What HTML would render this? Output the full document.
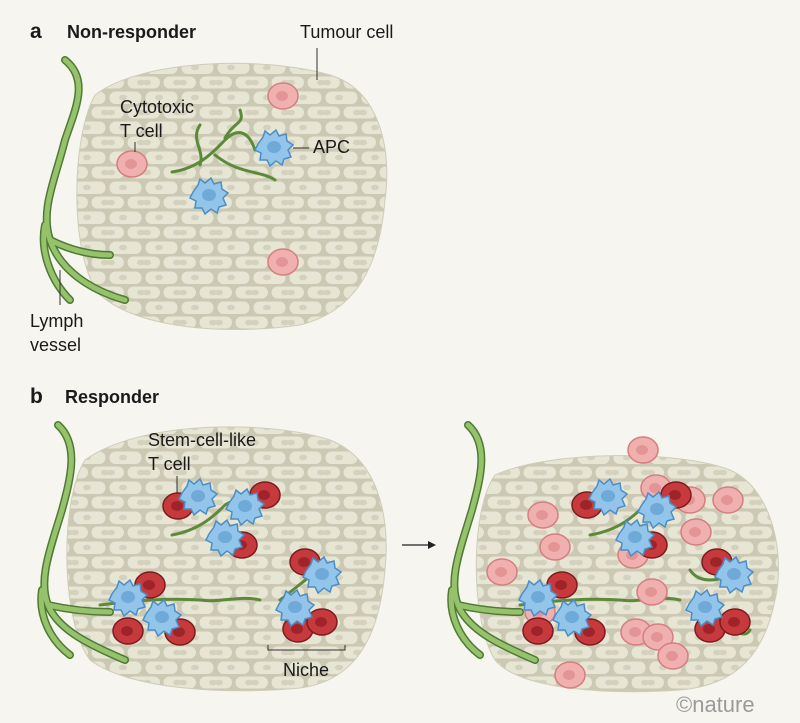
<!DOCTYPE html>
<html><head><style>
html,body{margin:0;padding:0;background:#f6f5ef;}
svg{display:block;}
text{font-family:"Liberation Sans",sans-serif;fill:#1a1a1a;}
</style></head><body>
<svg width="800" height="723" viewBox="0 0 800 723" xmlns="http://www.w3.org/2000/svg">
<defs>
<pattern id="cells" width="36" height="30" patternUnits="userSpaceOnUse">
<rect width="36" height="30" fill="#cbc9b3"/>
<rect x="1.5" y="1.5" width="32" height="12.5" rx="6" fill="#e7e5d4"/>
<rect x="-16" y="16.5" width="32" height="12" rx="6" fill="#e7e5d4"/>
<rect x="19.5" y="16.5" width="32" height="12" rx="6" fill="#e7e5d4"/>
<ellipse cx="15" cy="7.5" rx="4" ry="2.8" fill="#d4d2be"/>
<ellipse cx="33" cy="22.5" rx="4" ry="2.8" fill="#d4d2be"/>
<ellipse cx="3" cy="22.5" rx="4" ry="2.8" fill="#d4d2be"/>
</pattern>
<g id="pink"><ellipse rx="15" ry="13" fill="#f1b0b0" stroke="#d57e7e" stroke-width="1.5"/><ellipse cx="-1" cy="0" rx="6" ry="5" fill="#e39494"/></g>
<g id="red"><ellipse rx="15" ry="13" fill="#c63a3e" stroke="#7e1b1e" stroke-width="1.5"/><ellipse cx="-1" cy="0" rx="6" ry="5" fill="#9e2429"/></g>
<g id="apc"><path d="M-16,-4 L-11,-11 L-9,-17 L-4,-13 L2,-18 L5,-12 L12,-14 L13,-7 L19,-3 L14,2 L17,9 L10,11 L8,17 L2,13 L-4,18 L-7,12 L-14,12 L-13,5 L-19,2 Z" fill="#93c5ea" stroke="#4b8ec6" stroke-width="1.5"/><ellipse cx="0" cy="-1" rx="7" ry="6" fill="#6fa9d8"/></g>
</defs>

<!-- Panel a -->
<path d="M95,95 C140,60 260,55 330,75 C380,90 392,150 385,200 C380,260 360,310 300,325 C230,335 140,330 100,295 C70,260 70,140 95,95Z" fill="url(#cells)" stroke="#cfcdb8"/>
<g fill="none" stroke-linecap="round">
<g stroke="#4f7a34" stroke-width="8"><path d="M65,60 C90,80 75,110 65,140 C55,180 40,210 50,240 C60,270 90,290 125,300"/><path d="M50,240 C70,250 90,255 110,255"/><path d="M45,225 C40,250 50,280 70,300"/></g>
<g stroke="#97c26c" stroke-width="5"><path d="M65,60 C90,80 75,110 65,140 C55,180 40,210 50,240 C60,270 90,290 125,300"/><path d="M50,240 C70,250 90,255 110,255"/><path d="M45,225 C40,250 50,280 70,300"/></g>
<g stroke="#5d8a3a" stroke-width="3"><path d="M172,172 C200,168 215,150 225,140 C240,125 250,135 255,150"/><path d="M200,165 C205,150 190,140 200,125"/><path d="M215,155 C240,175 260,170 275,180"/><path d="M225,138 C235,120 245,125 240,110"/></g>
</g>
<use href="#pink" x="283" y="96"/><use href="#pink" x="132" y="164"/><use href="#pink" x="283" y="262"/>
<use href="#apc" x="274" y="148"/><use href="#apc" x="209" y="196"/>
<text x="30" y="38" font-size="21" font-weight="bold">a</text>
<text x="67" y="38" font-size="18" font-weight="bold">Non-responder</text>
<text x="300" y="38" font-size="18">Tumour cell</text>
<line x1="317" y1="48" x2="317" y2="80" stroke="#333"/>
<text x="120" y="113" font-size="18">Cytotoxic</text>
<text x="120" y="137" font-size="18">T cell</text>
<line x1="135" y1="142" x2="135" y2="152" stroke="#333"/>
<text x="313" y="153" font-size="18">APC</text>
<line x1="293" y1="148" x2="309" y2="148" stroke="#333"/>
<line x1="60" y1="270" x2="60" y2="305" stroke="#333"/>
<text x="30" y="327" font-size="18">Lymph</text>
<text x="30" y="351" font-size="18">vessel</text>

<!-- Panel b left -->
<text x="30" y="403" font-size="21" font-weight="bold">b</text>
<text x="65" y="403" font-size="18" font-weight="bold">Responder</text>
<path d="M85,460 C140,420 270,420 330,440 C380,460 390,520 385,570 C380,630 360,680 300,688 C230,695 130,690 90,660 C60,620 60,500 85,460Z" fill="url(#cells)" stroke="#cfcdb8"/>
<g fill="none" stroke-linecap="round">
<g stroke="#4f7a34" stroke-width="8"><path d="M58,425 C80,445 70,480 62,510 C50,550 38,580 48,605 C58,630 90,645 125,660"/><path d="M48,605 C70,610 90,612 110,612"/><path d="M42,590 C38,615 50,640 70,655"/></g>
<g stroke="#97c26c" stroke-width="5"><path d="M58,425 C80,445 70,480 62,510 C50,550 38,580 48,605 C58,630 90,645 125,660"/><path d="M48,605 C70,610 90,612 110,612"/><path d="M42,590 C38,615 50,640 70,655"/></g>
<g stroke="#5d8a3a" stroke-width="3"><path d="M172,535 C200,530 215,515 225,505 C240,495 250,500 260,515"/><path d="M100,605 C140,600 170,598 200,600 C220,603 240,595 260,600"/><path d="M280,600 C300,585 310,575 320,570"/><path d="M300,615 C310,630 325,640 330,630"/></g>
</g>
<use href="#red" x="178" y="506"/><use href="#red" x="265" y="495"/><use href="#red" x="242" y="545"/>
<use href="#apc" x="198" y="497"/><use href="#apc" x="245" y="507"/><use href="#apc" x="225" y="538"/>
<use href="#red" x="150" y="585"/><use href="#red" x="128" y="631"/><use href="#red" x="180" y="632"/>
<use href="#apc" x="128" y="598"/><use href="#apc" x="162" y="618"/>
<use href="#red" x="305" y="562"/><use href="#red" x="298" y="629"/><use href="#red" x="322" y="622"/>
<use href="#apc" x="322" y="575"/><use href="#apc" x="295" y="608"/>
<text x="148" y="446" font-size="18">Stem-cell-like</text>
<text x="148" y="470" font-size="18">T cell</text>
<line x1="177" y1="476" x2="177" y2="493" stroke="#333"/>
<path d="M268,645 L268,650 L345,650 L345,645" fill="none" stroke="#333"/>
<text x="283" y="676" font-size="18">Niche</text>

<!-- arrow -->
<line x1="402" y1="545" x2="428" y2="545" stroke="#222" stroke-width="1.3"/>
<path d="M428,541 L436,545 L428,549Z" fill="#222"/>

<!-- Panel b right -->
<path d="M495,475 C550,450 680,450 730,470 C775,490 785,560 775,600 C765,650 740,685 680,690 C610,695 520,690 495,660 C470,620 470,510 495,475Z" fill="url(#cells)" stroke="#cfcdb8"/>
<g fill="none" stroke-linecap="round">
<g stroke="#4f7a34" stroke-width="8"><path d="M468,425 C490,445 480,480 472,510 C460,550 448,580 458,605 C468,630 500,645 535,660"/><path d="M458,605 C480,610 500,612 520,612"/><path d="M452,590 C448,615 460,640 480,655"/></g>
<g stroke="#97c26c" stroke-width="5"><path d="M468,425 C490,445 480,480 472,510 C460,550 448,580 458,605 C468,630 500,645 535,660"/><path d="M458,605 C480,610 500,612 520,612"/><path d="M452,590 C448,615 460,640 480,655"/></g>
<g stroke="#5d8a3a" stroke-width="3"><path d="M590,535 C620,530 635,515 645,505"/><path d="M520,605 C560,600 590,598 620,600 C640,603 660,595 680,600"/><path d="M690,570 C700,585 720,580 730,575"/><path d="M720,615 C730,630 745,640 750,630"/></g>
</g>
<use href="#pink" x="643" y="450"/><use href="#pink" x="656" y="488"/><use href="#pink" x="728" y="500"/>
<use href="#pink" x="543" y="515"/><use href="#pink" x="555" y="547"/><use href="#pink" x="502" y="572"/>
<use href="#pink" x="696" y="532"/><use href="#pink" x="633" y="555"/><use href="#pink" x="652" y="592"/>
<use href="#pink" x="690" y="500"/><use href="#pink" x="636" y="632"/><use href="#pink" x="658" y="637"/>
<use href="#pink" x="673" y="656"/><use href="#pink" x="570" y="675"/><use href="#pink" x="540" y="612"/>
<use href="#red" x="587" y="505"/><use href="#red" x="676" y="495"/><use href="#red" x="652" y="545"/>
<use href="#apc" x="608" y="497"/><use href="#apc" x="657" y="510"/><use href="#apc" x="635" y="538"/>
<use href="#red" x="562" y="585"/><use href="#red" x="538" y="631"/><use href="#red" x="590" y="632"/>
<use href="#apc" x="538" y="598"/><use href="#apc" x="572" y="618"/>
<use href="#red" x="717" y="562"/><use href="#red" x="710" y="629"/><use href="#red" x="735" y="622"/>
<use href="#apc" x="734" y="575"/><use href="#apc" x="705" y="608"/>

<text x="676" y="712" font-size="22" style="fill:#9a9a9a">©nature</text>
</svg>
</body></html>
